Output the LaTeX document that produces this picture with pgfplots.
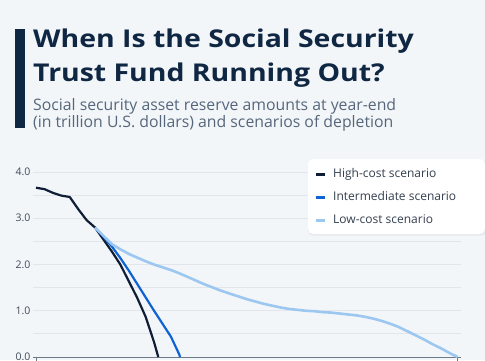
\documentclass[border=0pt]{standalone}
\usepackage{fontspec}
\setmainfont{Open Sans}
\newfontfamily\titlefont{Open Sans}[FakeStretch=1.16]
\usepackage{pgfplots}
\pgfplotsset{compat=1.18}
\definecolor{bg}{HTML}{F3F6F9}
\definecolor{titlec}{HTML}{0F2742}
\definecolor{subc}{HTML}{56677B}
\definecolor{tickc}{HTML}{3E4A5A}
\definecolor{gridc}{HTML}{E2E6EB}
\definecolor{axisc}{HTML}{6E7A88}
\definecolor{highc}{HTML}{0F1E36}
\definecolor{midc}{HTML}{0F63D3}
\definecolor{lowc}{HTML}{9CC7F0}
\definecolor{legtext}{HTML}{333F4F}

\pgfplotstableread{
year value
2020 3.66
2021 3.63
2022 3.55
2023 3.49
2024 3.46
2025 3.20
2026 2.96
2027 2.80
2028 2.54
2029 2.28
2030 2.00
2031 1.64
2032 1.28
2033 0.87
2034 0.32
2034.5 0.00
}\highcost

\pgfplotstableread{
year value
2027 2.80
2028 2.60
2029 2.39
2030 2.14
2031 1.87
2032 1.58
2033 1.29
2034 1.00
2035 0.72
2036 0.44
2037 0.05
2037.08 0.00
}\intermediate

\pgfplotstableread{
year value
2027 2.80
2028 2.62
2029 2.44
2030 2.33
2031 2.23
2032 2.15
2033 2.07
2034 2.00
2035 1.94
2036 1.88
2037 1.81
2038 1.73
2039 1.65
2040 1.57
2041 1.50
2042 1.43
2043 1.37
2044 1.31
2045 1.25
2046 1.20
2047 1.15
2048 1.11
2049 1.07
2050 1.04
2051 1.02
2052 1.00
2053 0.99
2054 0.97
2055 0.96
2056 0.94
2057 0.92
2058 0.90
2059 0.87
2060 0.83
2061 0.78
2062 0.72
2063 0.65
2064 0.56
2065 0.47
2066 0.38
2067 0.28
2068 0.19
2069 0.09
2070 0.00
}\lowcost

\begin{document}
\begin{tikzpicture}
\fill[bg] (0pt,0pt) rectangle (485pt,-360pt);
\fill[titlec] (15pt,-29.3pt) rectangle (25pt,-128pt);
\node[anchor=base west, inner sep=0pt, text=titlec, font=\titlefont\fontsize{24.5}{28}\selectfont\bfseries] at (33pt,-47pt) {When Is the Social Security};
\node[anchor=base west, inner sep=0pt, text=titlec, font=\titlefont\fontsize{24.5}{28}\selectfont\bfseries] at (33pt,-81pt) {Trust Fund Running Out?};
\node[anchor=base west, inner sep=0pt, text=subc, font=\fontsize{15.8}{18}\selectfont] at (33pt,-110pt) {Social security asset reserve amounts at year-end};
\node[anchor=base west, inner sep=0pt, text=subc, font=\fontsize{15.8}{18}\selectfont] at (33pt,-127pt) {(in trillion U.S. dollars) and scenarios of depletion};
\begin{axis}[
  at={(33.3pt,-357pt)}, anchor=south west,
  scale only axis, width=427.4pt, height=185pt,
  xmin=2019.68, xmax=2070.36, ymin=0, ymax=4,
  clip=false,
  axis x line*=bottom, axis y line*=left,
  y axis line style={draw=none},
  x axis line style={axisc, line width=0.9pt},
  xtick={2020,2070}, xticklabels={},
  xtick align=outside, ytick align=inside,
  major tick length=3.5pt,
  xtick style={axisc, line width=0.8pt},
  ytick style={draw=none},
  ytick={0,1,2,3,4},
  minor ytick={0.5,1.5,2.5,3.5},
  ymajorgrids, yminorgrids,
  major grid style={gridc, line width=0.8pt},
  minor grid style={gridc, line width=0.8pt},
  yticklabel style={font=\fontsize{10.5}{12}\selectfont, text=tickc, inner sep=0pt, xshift=-2.7pt},
  /pgf/number format/.cd, fixed, fixed zerofill, precision=1, assume math mode=true,
  /pgfplots/.cd,
  legend cell align=left,
  legend image code/.code={\draw[#1, line width=3pt, line cap=butt] (0pt,0pt) -- (9pt,0pt);},
  legend style={at={(0.6568,1.02)}, anchor=north west, draw=none, fill=none,
    inner sep=0pt, row sep=11pt, column sep=7pt,
    nodes={inner sep=0pt, text height=9pt, text depth=3pt, font=\fontsize{12}{14}\selectfont, text=legtext}},
]
\fill[black, opacity=0.05, rounded corners=5pt] (rel axis cs:0.6427,1.062) rectangle (rel axis cs:1.06,0.656);
\fill[white, rounded corners=5pt] (rel axis cs:0.6427,1.0703) rectangle (rel axis cs:1.0568,0.6649);
\addplot[highc, line width=2.2pt, line join=round] table[x=year, y=value] {\highcost};
\addlegendentry{High-cost scenario}
\addplot[midc, line width=2.2pt, line join=round] table[x=year, y=value] {\intermediate};
\addlegendentry{Intermediate scenario}
\addplot[lowc, line width=2.6pt, line join=round] table[x=year, y=value] {\lowcost};
\addlegendentry{Low-cost scenario}
\end{axis}
\pgfresetboundingbox
\useasboundingbox (0pt,0pt) rectangle (485pt,-360pt);
\end{tikzpicture}
\end{document}
